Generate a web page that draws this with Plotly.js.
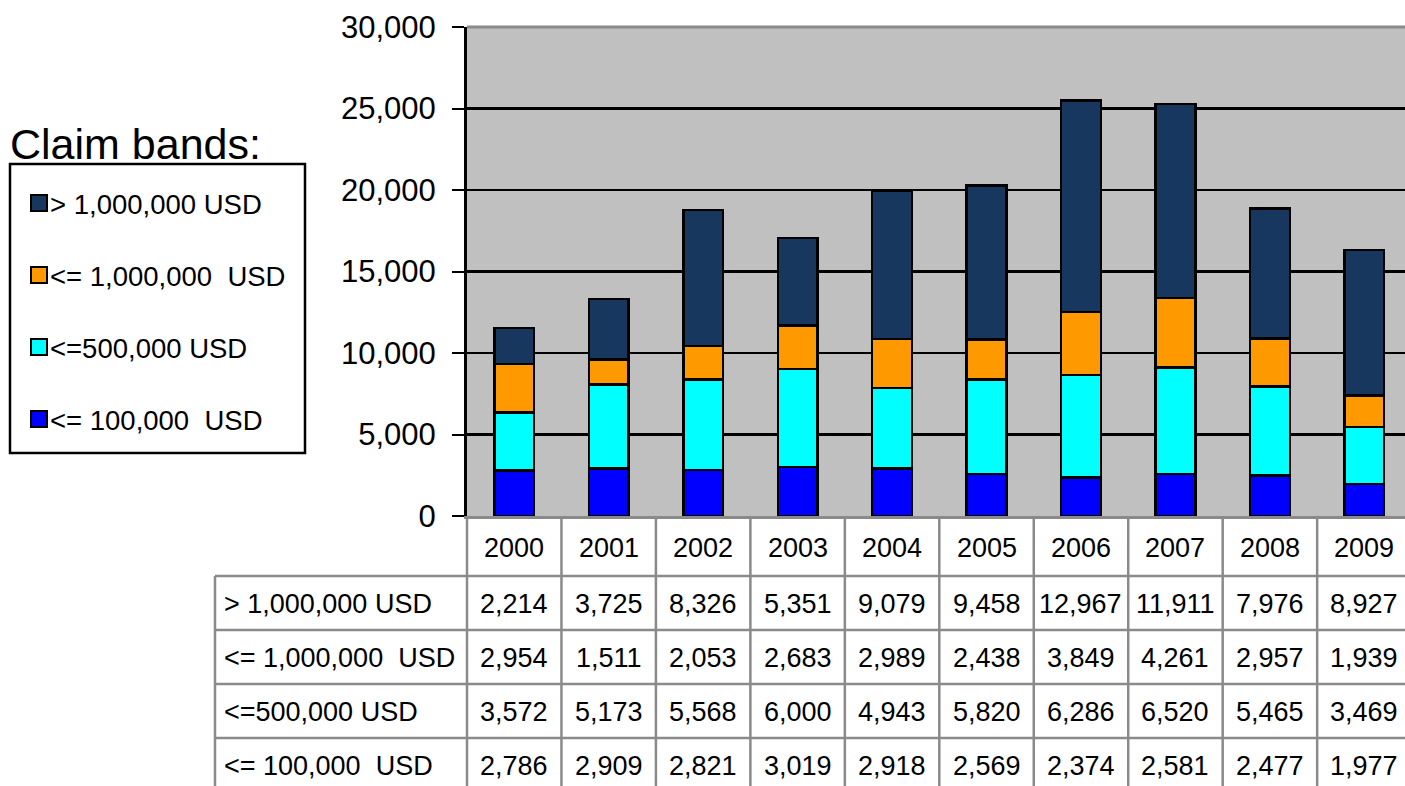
<!DOCTYPE html>
<html>
<head>
<meta charset="utf-8">
<script src="https://cdn.plot.ly/plotly-3.0.1.min.js"></script>
<style>
html,body{margin:0;padding:0;background:#fff;overflow:hidden;}
#chart{width:1405px;height:786px;}
</style>
</head>
<body>
<div id="chart"></div>
<script>
// ---- data ----
const years = ['2000','2001','2002','2003','2004','2005','2006','2007','2008','2009'];
const seriesNames = ['> 1,000,000 USD', '<= 1,000,000  USD', '<=500,000 USD', '<= 100,000  USD'];
const over1M   = [2214, 3725, 8326, 5351, 9079, 9458, 12967, 11911, 7976, 8927];
const upTo1M   = [2954, 1511, 2053, 2683, 2989, 2438, 3849, 4261, 2957, 1939];
const upTo500k = [3572, 5173, 5568, 6000, 4943, 5820, 6286, 6520, 5465, 3469];
const upTo100k = [2786, 2909, 2821, 3019, 2918, 2569, 2374, 2581, 2477, 1977];
const seriesColors = ['#17375E', '#FF9900', '#00FFFF', '#0000FF'];
const legendTitle = 'Claim bands:';
const yTicks = [0, 5000, 10000, 15000, 20000, 25000, 30000];

// ---- layout constants ----
const FONT = '"Liberation Sans", Arial, sans-serif';
const ML = 467, MT = 27, PW = 938, PH = 489;
const xRange = [-0.5, 9.43];
const yRange = [0, 30000];
const GRAY = '#8a8a8a';
const px2x = p => (p - ML) / PW;
const px2y = p => (MT + PH - p) / PH;
const cat2paper = c => (c - xRange[0]) / (xRange[1] - xRange[0]);
const nb = s => s.replace(/  /g, '\u00a0\u00a0');

const allSeries = [over1M, upTo1M, upTo500k, upTo100k];

// traces: stacked bottom-up
const order = [3, 2, 1, 0];
const traces = order.map(i => ({
  type: 'bar',
  x: years,
  y: allSeries[i],
  name: seriesNames[i],
  marker: {color: seriesColors[i], line: {color: '#000', width: 2.5}},
  hoverinfo: 'x+y+name',
  showlegend: false
}));

const shapes = [];
const annotations = [];

// top border of plot (gray)
shapes.push({type:'line', xref:'paper', yref:'paper', x0:0, x1:1, y0:1, y1:1,
  line:{color:GRAY, width:3}, layer:'above'});

// ---- data table ----
const TFS = 27;
const headerTop = 516, rowLines = [576, 630, 684, 738], rowH = 54, bottom = 800;
const labelLeft = 215;
rowLines.forEach(p => shapes.push({type:'line', xref:'paper', yref:'paper',
  x0:px2x(labelLeft), x1:1.01, y0:px2y(p), y1:px2y(p), line:{color:GRAY, width:2.5}}));
for (let k = 0; k <= years.length; k++) {
  const xp = cat2paper(k - 0.5);
  shapes.push({type:'line', xref:'paper', yref:'paper', x0:xp, x1:xp,
    y0:px2y(headerTop), y1:px2y(bottom), line:{color:GRAY, width:2.5}});
}
shapes.push({type:'line', xref:'paper', yref:'paper', x0:px2x(labelLeft), x1:px2x(labelLeft),
  y0:px2y(576), y1:px2y(bottom), line:{color:GRAY, width:2.5}});

// header years
years.forEach((yr, c) => annotations.push({xref:'paper', yref:'paper', x:cat2paper(c), y:px2y((518 + 576) / 2 + 1),
  text: yr, showarrow:false, xanchor:'center', yanchor:'middle',
  font:{family:FONT, size:TFS, color:'#000'}}));

// data rows
allSeries.forEach((vals, r) => {
  const cy = px2y(rowLines[r] + rowH / 2 + 1);
  annotations.push({xref:'paper', yref:'paper', x:px2x(222), y:cy, text:nb(seriesNames[r]),
    showarrow:false, xanchor:'left', yanchor:'middle', font:{family:FONT, size:TFS, color:'#000'}});
  vals.forEach((v, c) => annotations.push({xref:'paper', yref:'paper', x:cat2paper(c), y:cy,
    text: v.toLocaleString('en-US'), showarrow:false, xanchor:'center', yanchor:'middle',
    font:{family:FONT, size:TFS, color:'#000'}}));
});

// ---- manual legend ----
annotations.push({xref:'paper', yref:'paper', x:px2x(8), y:px2y(144), text:legendTitle,
  showarrow:false, xanchor:'left', yanchor:'middle', font:{family:FONT, size:43, color:'#000'}});
shapes.push({type:'rect', xref:'paper', yref:'paper', x0:px2x(10), x1:px2x(305),
  y0:px2y(164), y1:px2y(453), line:{color:'#000', width:2.5}, fillcolor:'rgba(0,0,0,0)'});
const legendRows = [203, 275, 347, 419];
seriesNames.forEach((nm, i) => {
  const cy = legendRows[i];
  shapes.push({type:'rect', xref:'paper', yref:'paper', x0:px2x(31), x1:px2x(47),
    y0:px2y(cy - 8), y1:px2y(cy + 8), line:{color:'#000', width:2}, fillcolor:seriesColors[i]});
  annotations.push({xref:'paper', yref:'paper', x:px2x(48), y:px2y(cy + 1), text:nb(nm),
    showarrow:false, xanchor:'left', yanchor:'middle', font:{family:FONT, size:27.5, color:'#000'}});
});

const layout = {
  width: 1405, height: 786,
  margin: {l: ML, r: 1405 - ML - PW, t: MT, b: 786 - MT - PH, pad: 0},
  paper_bgcolor: '#fff',
  plot_bgcolor: '#c0c0c0',
  barmode: 'stack',
  bargap: 0.58,
  showlegend: false,
  font: {family: FONT, color: '#000'},
  xaxis: {
    type: 'category', range: xRange, showticklabels: false, ticks: '',
    showgrid: false, zeroline: false, showline: true, linecolor: GRAY, linewidth: 3,
    fixedrange: true
  },
  yaxis: {
    range: yRange, tickvals: yTicks, tickformat: ',d',
    ticks: 'outside', ticklen: 12, tickwidth: 2, tickcolor: '#000',
    ticklabelstandoff: 10,
    tickfont: {family: FONT, size: 31, color: '#000'},
    showgrid: true, gridcolor: '#000', gridwidth: 2.5,
    zeroline: false, showline: true, linecolor: '#000', linewidth: 3,
    fixedrange: true
  },
  shapes: shapes,
  annotations: annotations
};

Plotly.newPlot('chart', traces, layout, {displayModeBar: false, staticPlot: true});
</script>
</body>
</html>
